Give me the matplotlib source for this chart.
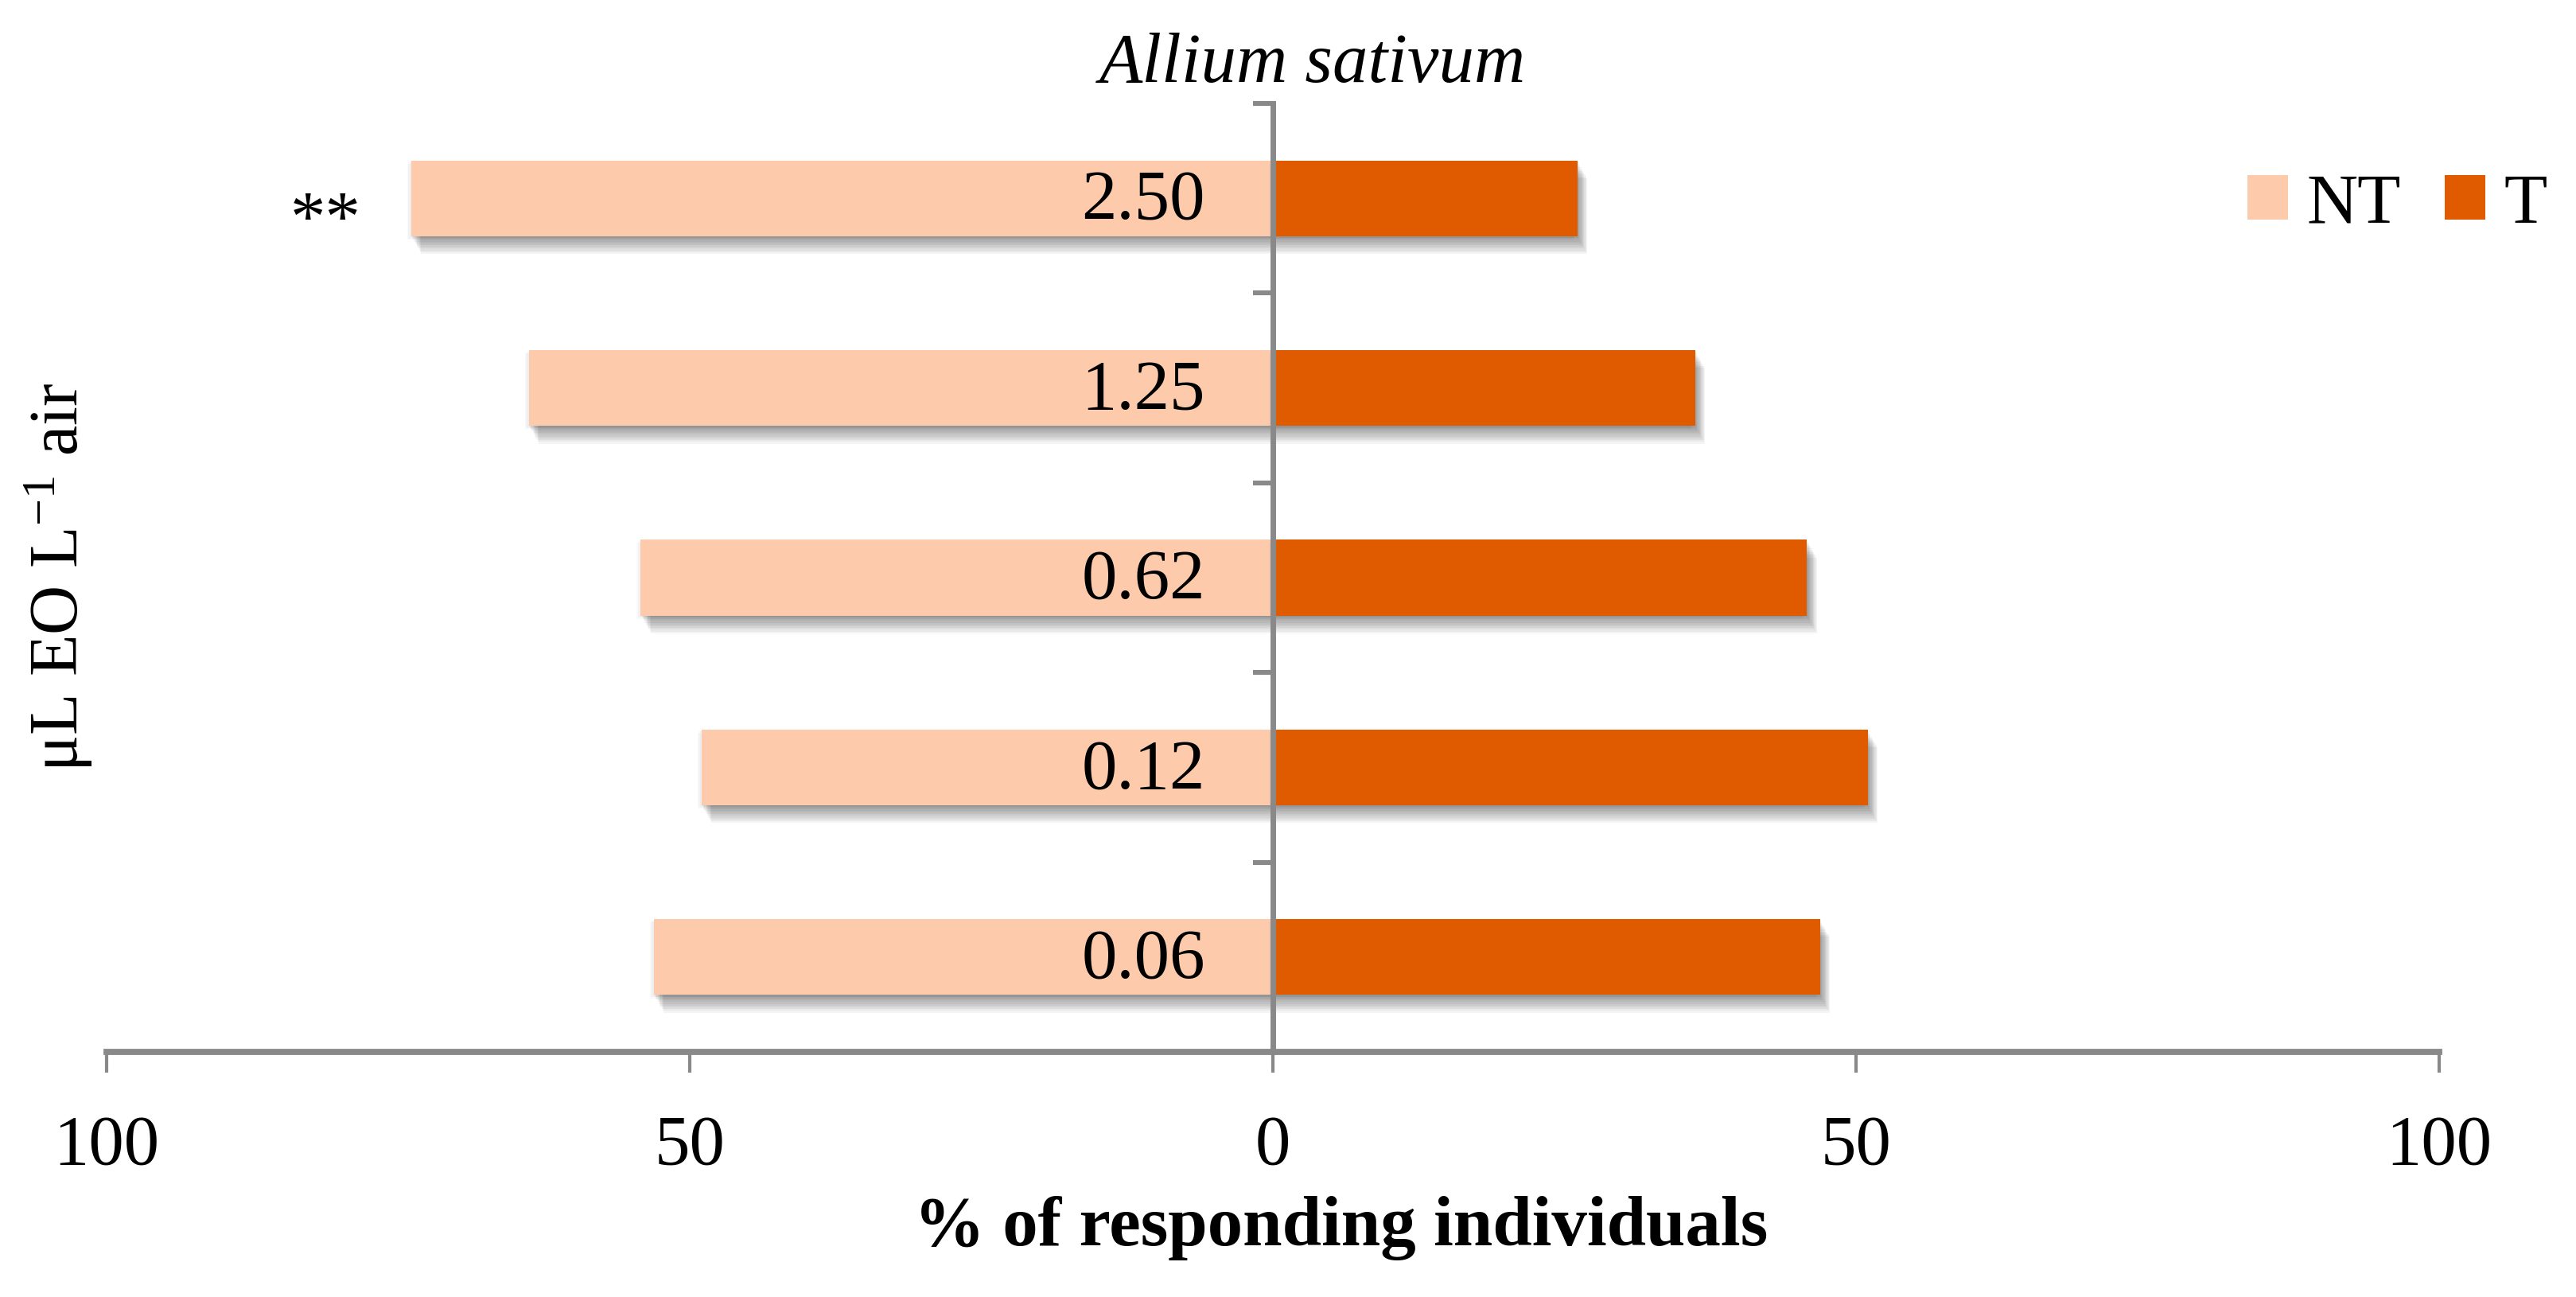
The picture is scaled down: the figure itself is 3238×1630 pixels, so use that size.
import matplotlib
matplotlib.use('Agg')
import matplotlib.pyplot as plt
import matplotlib.patheffects as pe
from matplotlib.patches import Patch
import numpy as np

# ---- data (top row to bottom row) ----
concentrations = ['2.50', '1.25', '0.62', '0.12', '0.06']
nt_values = [73.9, 63.8, 54.2, 49.0, 53.1]
t_values = [26.1, 36.2, 45.8, 51.0, 46.9]
significance = ['**', '', '', '', '']
x_ticks = [-100, -50, 0, 50, 100]
x_tick_labels = ['100', '50', '0', '50', '100']
series_names = ['NT', 'T']
title_text = 'Allium sativum'
x_label = '% of responding individuals'
y_label = r'μL EO L$^{-1}$ air'

plt.rcParams['font.family'] = ['Liberation Serif', 'DejaVu Serif']
plt.rcParams['mathtext.fontset'] = 'custom'
plt.rcParams['mathtext.rm'] = 'Liberation Serif'
plt.rcParams['mathtext.it'] = 'Liberation Serif:italic'
plt.rcParams['mathtext.bf'] = 'Liberation Serif:bold'

FS = 32
NT_COLOR = '#FDCBAC'
T_COLOR = '#E05A00'
AXIS_GRAY = '#898989'

W, H = 3238, 1630
fig = plt.figure(figsize=(W / 200, H / 200), dpi=200)
fig.patch.set_facecolor('white')
ax = fig.add_axes([134 / W, 1 - 1322 / H, (3066 - 134) / W, (1322 - 130) / H])

n = len(concentrations)
y = np.arange(n)[::-1]


def shadow():
    eff = []
    # soft, blurred-looking drop shadow built from stacked faint offsets
    for k in range(1, 11):
        eff.append(pe.SimplePatchShadow(offset=(0.45 * k, -0.8 * k),
                                        shadow_rgbFace='black', alpha=0.045))
    for k in range(1, 4):
        eff.append(pe.SimplePatchShadow(offset=(-0.6 * k, -0.5 * k),
                                        shadow_rgbFace='black', alpha=0.025))
    eff.append(pe.Normal())
    return eff


ax.barh(y, [-v for v in nt_values], height=0.4, color=NT_COLOR,
        linewidth=0, path_effects=shadow(), zorder=1)
ax.barh(y, t_values, height=0.4, color=T_COLOR,
        linewidth=0, path_effects=shadow(), zorder=1.1)

for yi, lab in zip(y, concentrations):
    ax.annotate(lab, xy=(-5.8, yi), xytext=(0, -1.5), textcoords='offset points',
                ha='right', va='center', fontsize=FS, zorder=3)

for yi, nt, sig in zip(y, nt_values, significance):
    if sig:
        ax.annotate(sig, xy=(-81.2, yi), xytext=(0, -11), textcoords='offset points',
                    ha='center', va='center', fontsize=FS)

ax.set_xlim(-100, 100)
ax.set_ylim(-0.5, n - 0.5)

for s in ['top', 'right']:
    ax.spines[s].set_visible(False)
ax.spines['left'].set_position(('data', 0))
ax.spines['left'].set_color(AXIS_GRAY)
ax.spines['left'].set_linewidth(2.5)
ax.spines['bottom'].set_color(AXIS_GRAY)
ax.spines['bottom'].set_linewidth(2.8)

ax.set_yticks(np.arange(-0.5, n, 1.0))
ax.set_yticklabels([])
ax.tick_params(axis='y', direction='out', length=9, width=2.2, color=AXIS_GRAY)

ax.set_xticks(x_ticks)
ax.set_xticklabels(x_tick_labels)
ax.tick_params(axis='x', direction='out', length=9.4, width=1.5, color=AXIS_GRAY,
               pad=19, labelsize=FS)

fig.text(1686 / W, 1 - 1565 / H, x_label, ha='center', va='baseline',
         fontsize=FS, fontweight='bold')
fig.text(1650 / W, 1 - 103 / H, title_text, ha='center', va='baseline',
         fontsize=FS, style='italic')
fig.text(98 / W, 1 - 725 / H, y_label, rotation=90, rotation_mode='anchor',
         ha='center', va='baseline', fontsize=31)

handles = [Patch(facecolor=NT_COLOR, edgecolor='none'),
           Patch(facecolor=T_COLOR, edgecolor='none')]
ax.legend(handles, series_names, loc='center left',
          bbox_to_anchor=(2825 / W, 1 - 258 / H), bbox_transform=fig.transFigure,
          ncol=2, frameon=False, fontsize=FS, handlelength=0.57, handleheight=0.6,
          handletextpad=0.27, columnspacing=0.62, borderpad=0, borderaxespad=0)

fig.savefig('out.png', dpi=200, facecolor='white')
